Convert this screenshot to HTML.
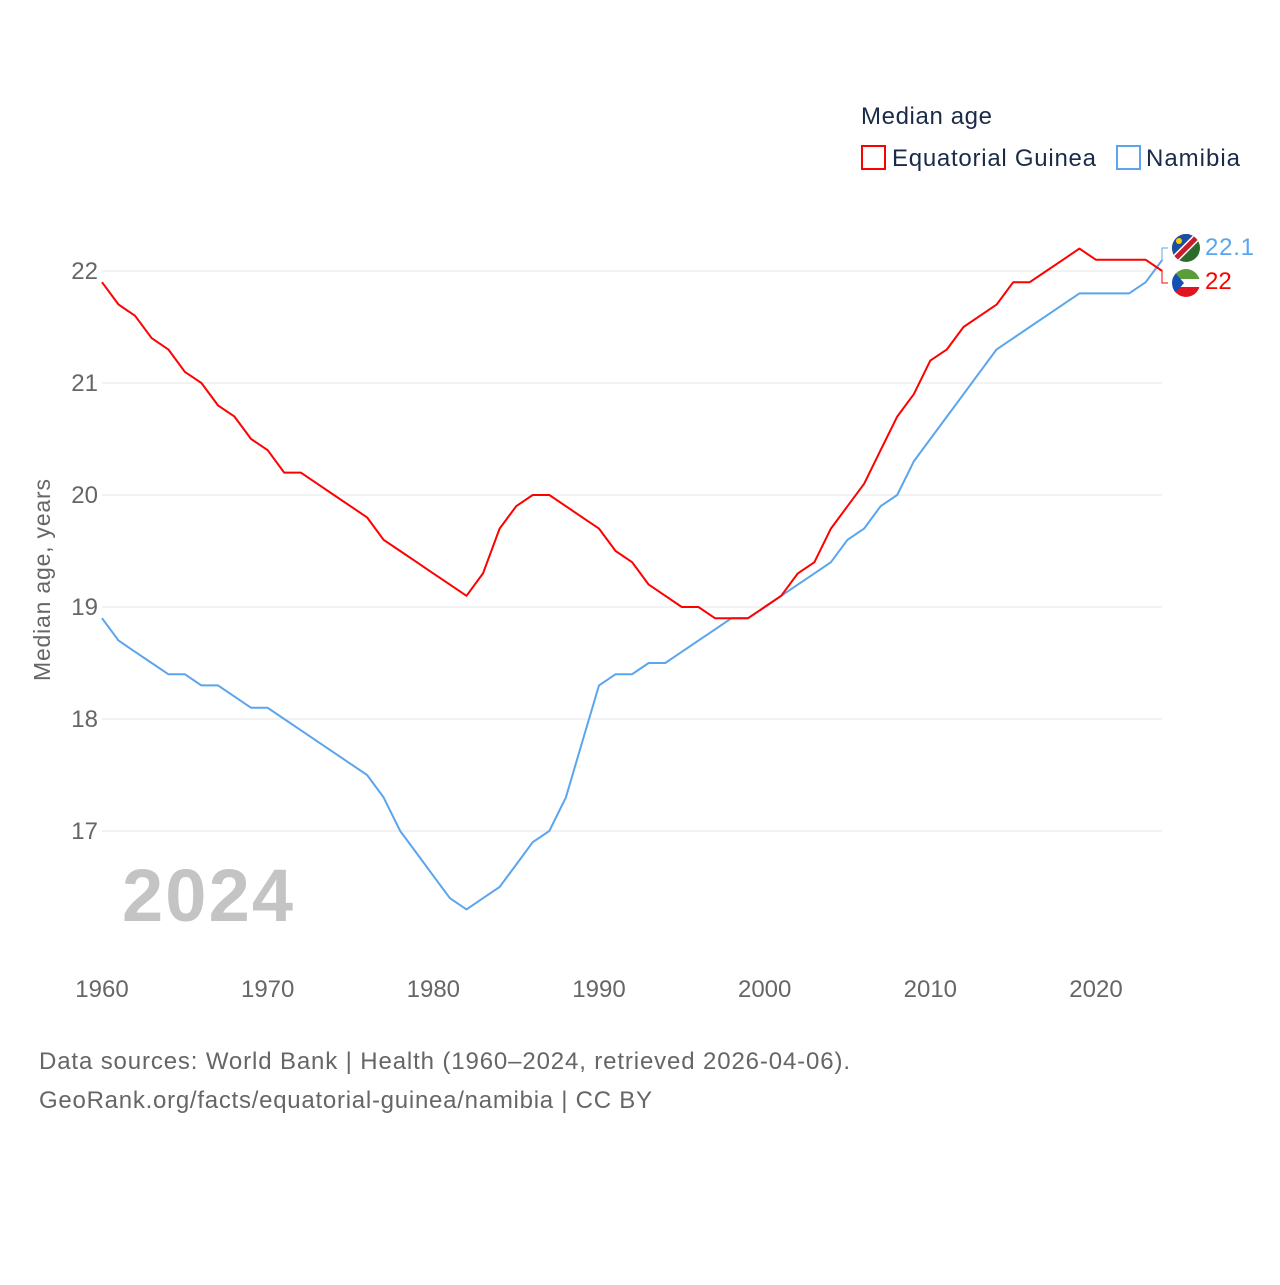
<!DOCTYPE html>
<html><head><meta charset="utf-8"><style>
body{margin:0;background:#fff;width:1280px;height:1280px;overflow:hidden;font-family:"Liberation Sans",sans-serif}
</style></head><body>
<svg id="chart" width="1280" height="1280" xmlns="http://www.w3.org/2000/svg" font-family="Liberation Sans, sans-serif">
<g id="grid"></g>
<g id="yticks"></g>
<g id="xticks"></g>
<text transform="translate(50,580) rotate(-90)" text-anchor="middle" font-size="23" fill="#666" textLength="202">Median age, years</text>
<text x="122" y="921" font-size="74" font-weight="bold" fill="#c4c4c4" textLength="171">2024</text>
<g id="series"></g>
<g>
<text x="861" y="124" font-size="24" fill="#1a2b49" textLength="131">Median age</text>
<rect x="862" y="146" width="23" height="23" fill="none" stroke="#f00" stroke-width="2"/>
<text x="892" y="166" font-size="24" fill="#1a2b49" textLength="204">Equatorial Guinea</text>
<rect x="1117" y="146" width="23" height="23" fill="none" stroke="#5aa5ee" stroke-width="2"/>
<text x="1146" y="166" font-size="24" fill="#1a2b49" textLength="94">Namibia</text>
</g>
<g>
<g>
<clipPath id="c1"><circle cx="1186" cy="248" r="14"/></clipPath>
<g clip-path="url(#c1)"><rect x="1172" y="234" width="28" height="28" fill="#2d6b2d"/><polygon points="1172,234 1200,234 1172,262" fill="#1d4fa0"/><line x1="1200" y1="234" x2="1172" y2="262" stroke="#fff" stroke-width="8"/><line x1="1200" y1="234" x2="1172" y2="262" stroke="#c81e2a" stroke-width="5"/><circle cx="1179" cy="241" r="3" fill="#fc0"/></g>
</g>
<g>
<clipPath id="c2"><circle cx="1186" cy="283" r="14"/></clipPath>
<g clip-path="url(#c2)"><rect x="1172" y="269" width="28" height="10" fill="#5a9e3a"/><rect x="1172" y="279" width="28" height="8" fill="#fff"/><rect x="1172" y="287" width="28" height="10" fill="#e1141e"/><polygon points="1172,269 1184,283 1172,297" fill="#1450b4"/></g>
</g>
<path d="M1162,260 V248 H1168" fill="none" stroke="#5aa5ee" stroke-width="1"/>
<path d="M1162,271 V283 H1168" fill="none" stroke="#f00" stroke-width="1"/>
<text x="1205" y="255" font-size="24" fill="#5aa5ee" textLength="49">22.1</text>
<text x="1205" y="289" font-size="24" fill="#f00">22</text>
</g>
<text x="39" y="1069" font-size="24" fill="#666" textLength="811">Data sources: World Bank | Health (1960–2024, retrieved 2026-04-06).</text>
<text x="39" y="1108" font-size="24" fill="#666" textLength="613">GeoRank.org/facts/equatorial-guinea/namibia | CC BY</text>
</svg>
<script>
const years=[];for(let y=1960;y<=2024;y++)years.push(y);
const eqGuinea=[21.9,21.7,21.6,21.4,21.3,21.1,21.0,20.8,20.7,20.5,20.4,20.2,20.2,20.1,20.0,19.9,19.8,19.6,19.5,19.4,19.3,19.2,19.1,19.3,19.7,19.9,20.0,20.0,19.9,19.8,19.7,19.5,19.4,19.2,19.1,19.0,19.0,18.9,18.9,18.9,19.0,19.1,19.3,19.4,19.7,19.9,20.1,20.4,20.7,20.9,21.2,21.3,21.5,21.6,21.7,21.9,21.9,22.0,22.1,22.2,22.1,22.1,22.1,22.1,22.0];
const namibia=[18.9,18.7,18.6,18.5,18.4,18.4,18.3,18.3,18.2,18.1,18.1,18.0,17.9,17.8,17.7,17.6,17.5,17.3,17.0,16.8,16.6,16.4,16.3,16.4,16.5,16.7,16.9,17.0,17.3,17.8,18.3,18.4,18.4,18.5,18.5,18.6,18.7,18.8,18.9,18.9,19.0,19.1,19.2,19.3,19.4,19.6,19.7,19.9,20.0,20.3,20.5,20.7,20.9,21.1,21.3,21.4,21.5,21.6,21.7,21.8,21.8,21.8,21.8,21.9,22.1];
const yTicks=[17,18,19,20,21,22];
const xTicks=[1960,1970,1980,1990,2000,2010,2020];
const NS='http://www.w3.org/2000/svg';
const xs=y=>102+(y-1960)*(1096-102)/60;
const ys=v=>271-(v-22)*112;
const mk=(t,a,p)=>{const e=document.createElementNS(NS,t);for(const k in a)e.setAttribute(k,a[k]);p.appendChild(e);return e;};
const grid=document.getElementById('grid'),yt=document.getElementById('yticks'),xt=document.getElementById('xticks'),se=document.getElementById('series');
yTicks.forEach(v=>{
 const l=mk('line',{x1:102,x2:1162,y1:ys(v),y2:ys(v),stroke:'#e6e6e6','stroke-width':1},grid);
 
 
 const t=mk('text',{x:98,y:ys(v)+8,'text-anchor':'end','font-size':24,fill:'#666'},yt);t.textContent=v;
 
 
});
xTicks.forEach(y=>{
 const t=mk('text',{x:xs(y),y:997,'text-anchor':'middle','font-size':24,fill:'#666'},xt);t.textContent=y;
 
 
});
function line(vals,color,name){
 const d=vals.map((v,i)=>(i?'L':'M')+xs(years[i]).toFixed(1)+','+ys(v).toFixed(1)).join('');
 const p=mk('path',{d:d,fill:'none',stroke:color,'stroke-width':2,'stroke-linejoin':'round'},se);
 
 
}
line(namibia,'#5aa5ee','namibia-line');
line(eqGuinea,'#ff0000','equatorial-guinea-line');
</script>
</body></html>
